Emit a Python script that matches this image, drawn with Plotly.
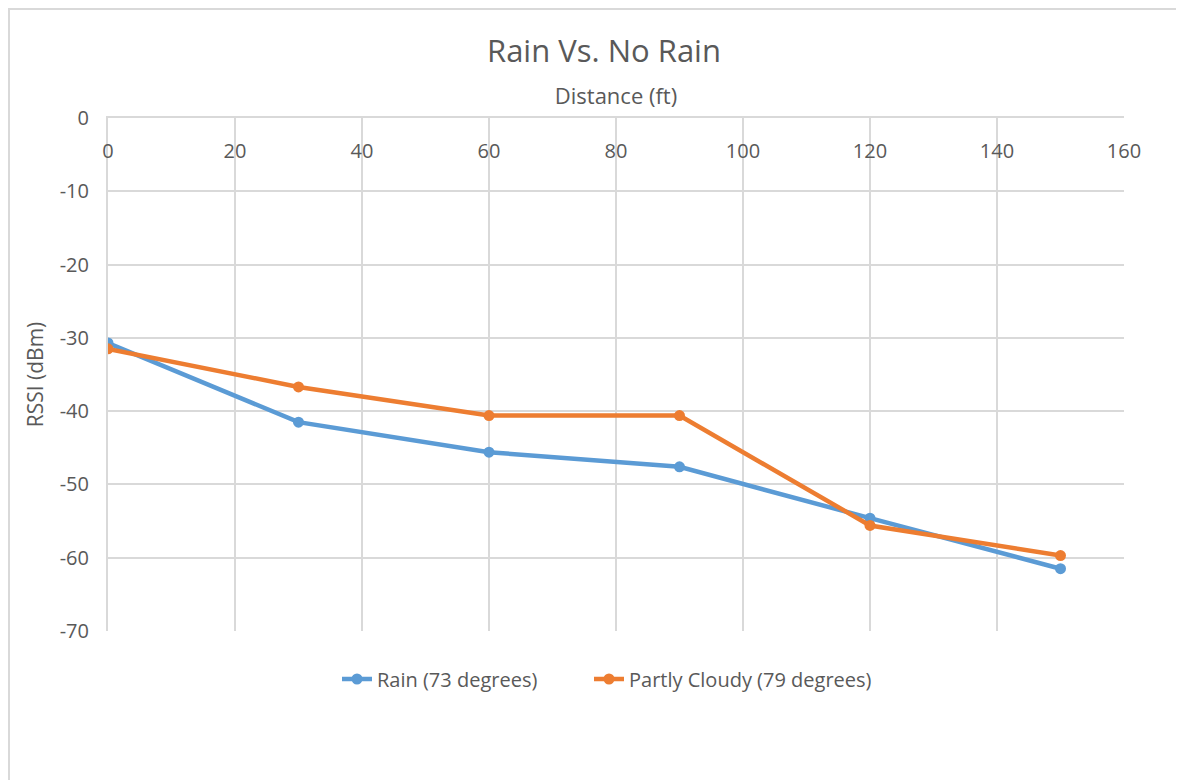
import plotly.graph_objects as go

distance_ft = [0, 30, 60, 90, 120, 150]
rain_rssi = [-30.7, -41.5, -45.6, -47.6, -54.6, -61.5]
cloudy_rssi = [-31.5, -36.7, -40.6, -40.6, -55.6, -59.7]
series_names = ["Rain (73 degrees)", "Partly Cloudy (79 degrees)"]
x_ticks = [0, 20, 40, 60, 80, 100, 120, 140, 160]
y_ticks = [0, -10, -20, -30, -40, -50, -60, -70]
y_tick_text = ["0", "-10", "-20", "-30", "-40", "-50", "-60", "-70"]

BLUE = "#5B9BD5"
ORANGE = "#ED7D31"
GRID = "#d9d9d9"
TEXT = "#595959"
FONT = "Open Sans"

fig = go.Figure()
fig.add_trace(go.Scatter(x=distance_ft, y=rain_rssi, name=series_names[0], mode="lines+markers",
                         line=dict(color=BLUE, width=4.5), marker=dict(size=11, color=BLUE), legend="legend"))
fig.add_trace(go.Scatter(x=distance_ft, y=cloudy_rssi, name=series_names[1], mode="lines+markers",
                         line=dict(color=ORANGE, width=4.5), marker=dict(size=11, color=ORANGE), legend="legend2"))

# page has an 8px body margin; figure coordinates are offset accordingly
OX, OY = 8, 7
W, H = 1176, 773
L, T = 108 - OX, 117 - OY
R = W - (1124 - OX)
B = H - (630 - OY)
pw, ph = W - L - R, H - T - B

leg_common = dict(orientation="h", xanchor="left", y=-(678 - 630) / ph, yanchor="middle",
                  font=dict(size=20, color=TEXT), bgcolor="rgba(0,0,0,0)")

fig.update_layout(
    width=W, height=H,
    margin=dict(l=L, r=R, t=T, b=B),
    paper_bgcolor="white", plot_bgcolor="white",
    font=dict(family=FONT, color=TEXT),
    title=dict(text="Rain Vs. No Rain", x=(604 - OX) / W, xanchor="center", y=1 - (50 - OY) / H, yanchor="middle",
               font=dict(size=31, color=TEXT)),
    showlegend=True,
    legend=dict(x=(342 - 5 - OX - L) / pw, **leg_common),
    legend2=dict(x=(594 - 5 - OX - L) / pw, **leg_common),
    xaxis=dict(range=[0, 160], tickvals=x_ticks, side="top", showgrid=True, gridcolor=GRID, gridwidth=2,
               zeroline=False, showline=True, linecolor=GRID, linewidth=2, mirror=False,
               ticks="", ticklabelposition="inside", ticklabeloverflow="allow", ticklabelstandoff=27,
               tickfont=dict(size=20, color=TEXT),
               title=dict(text="Distance (ft)", font=dict(size=22, color=TEXT), standoff=26)),
    yaxis=dict(range=[-70, 0], tickvals=y_ticks, ticktext=y_tick_text, showgrid=True, gridcolor=GRID, gridwidth=2,
               zeroline=False, showline=True, linecolor=GRID, linewidth=2,
               ticks="", ticklabelstandoff=13, tickfont=dict(size=20, color=TEXT),
               title=dict(text="RSSI (dBm)", font=dict(size=21, color=TEXT), standoff=10)),
)

# outer chart border (left and top edges visible in the page)
fig.add_shape(type="rect", xref="paper", yref="paper",
              x0=(1 - L) / pw, x1=(W + 20 - L) / pw,
              y0=-(H + 20 - (T + ph)) / ph, y1=1 + (T - 1) / ph,
              line=dict(color=GRID, width=2), fillcolor="rgba(0,0,0,0)", layer="below")

fig.write_html("out.html")
